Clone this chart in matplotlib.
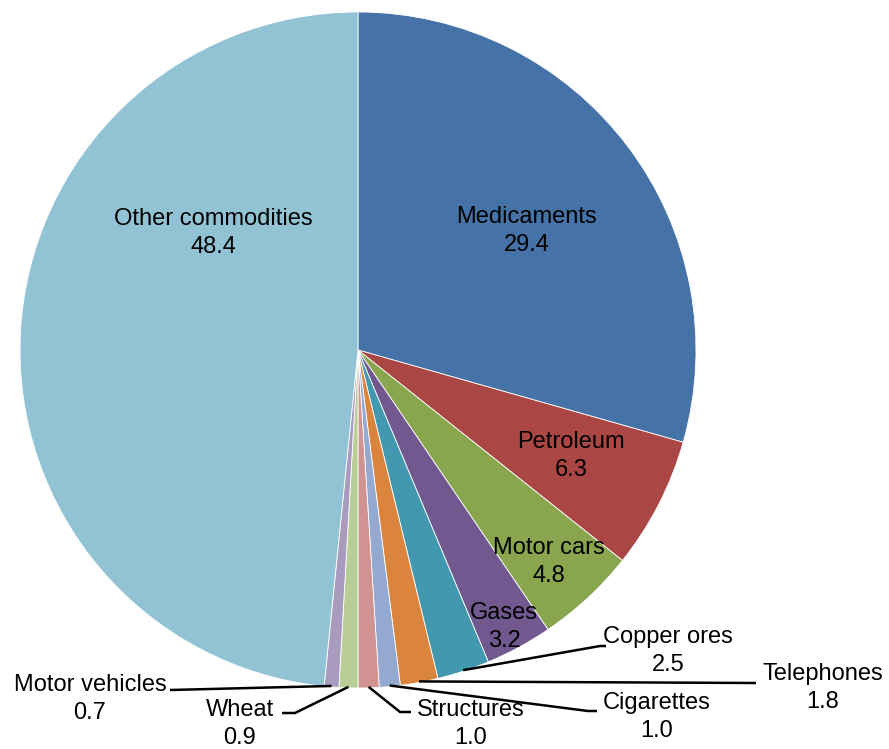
import numpy as np
import matplotlib
matplotlib.use("Agg")
from matplotlib import pyplot as plt

# 품목별 비중 (%)
labels = ["Medicaments", "Petroleum", "Motor cars", "Gases", "Copper ores",
          "Telephones", "Cigarettes", "Structures", "Wheat", "Motor vehicles",
          "Other commodities"]
values = [29.4, 6.3, 4.8, 3.2, 2.5, 1.8, 1.0, 1.0, 0.9, 0.7, 48.4]
colors = ["#4572A7", "#AA4643", "#89A54E", "#71588F", "#4198AF", "#DB843D",
          "#93A9CF", "#D19392", "#B9CD96", "#A99BBD", "#92C3D5"]

W, H = 889, 749
plt.rcParams['font.family'] = ['Liberation Sans', 'DejaVu Sans']

fig = plt.figure(figsize=(W / 100, H / 100), dpi=100)
ax = fig.add_axes([0, 0, 1, 1])

cx, cy, R = 358, 350, 338   # 픽셀 좌표 (위에서부터)
ax.pie(values, colors=colors, startangle=90, counterclock=False,
       center=(cx, H - cy), radius=R, frame=True,
       wedgeprops=dict(edgecolor="white", linewidth=0.6))
ax.set_xlim(0, W)
ax.set_ylim(0, H)
ax.set_aspect("equal")
ax.axis("off")

# 라벨 위치 (픽셀, 두 줄의 중앙)
inside = {"Medicaments": (527, 231), "Other commodities": (213, 233),
          "Petroleum": (571, 456), "Motor cars": (549, 562), "Gases": (504, 627)}
# 바깥 라벨: (텍스트 중앙, 지시선 꺾임점들)
outside = {
    "Copper ores": ((668, 651), [(600, 646), (606, 646)]),
    "Telephones": ((823, 688), [(756, 683)]),
    "Cigarettes": ((657, 717), [(588, 711), (597, 711)]),
    "Structures": ((471, 724), [(400, 712), (411, 712)]),
    "Wheat": ((240, 724), [(295, 713), (282, 713)]),
    "Motor vehicles": ((90, 699), [(170, 690)]),
}

total = sum(values)
cum = np.cumsum([0] + values)
fs = 17
for i, (lab, v) in enumerate(zip(labels, values)):
    txt = f"{lab}\n{v:.1f}"
    if lab in inside:
        x, y = inside[lab]
        ax.text(x, H - y, txt, ha="center", va="center", fontsize=fs,
                linespacing=1.3, color="black")
    else:
        (tx, ty), pts = outside[lab]
        mid = (cum[i] + cum[i + 1]) / 2 / total
        th = np.deg2rad(90 - 360 * mid)
        sx = cx + (R - 1) * np.cos(th)
        sy = cy - (R - 1) * np.sin(th)
        xs = [sx] + [p[0] for p in pts]
        ys = [H - sy] + [H - p[1] for p in pts]
        ax.plot(xs, ys, color="black", linewidth=1.8, solid_capstyle="butt")
        ax.text(tx, H - ty, txt, ha="center", va="center", fontsize=fs,
                linespacing=1.3, color="black")

fig.savefig("out.png", dpi=100)
